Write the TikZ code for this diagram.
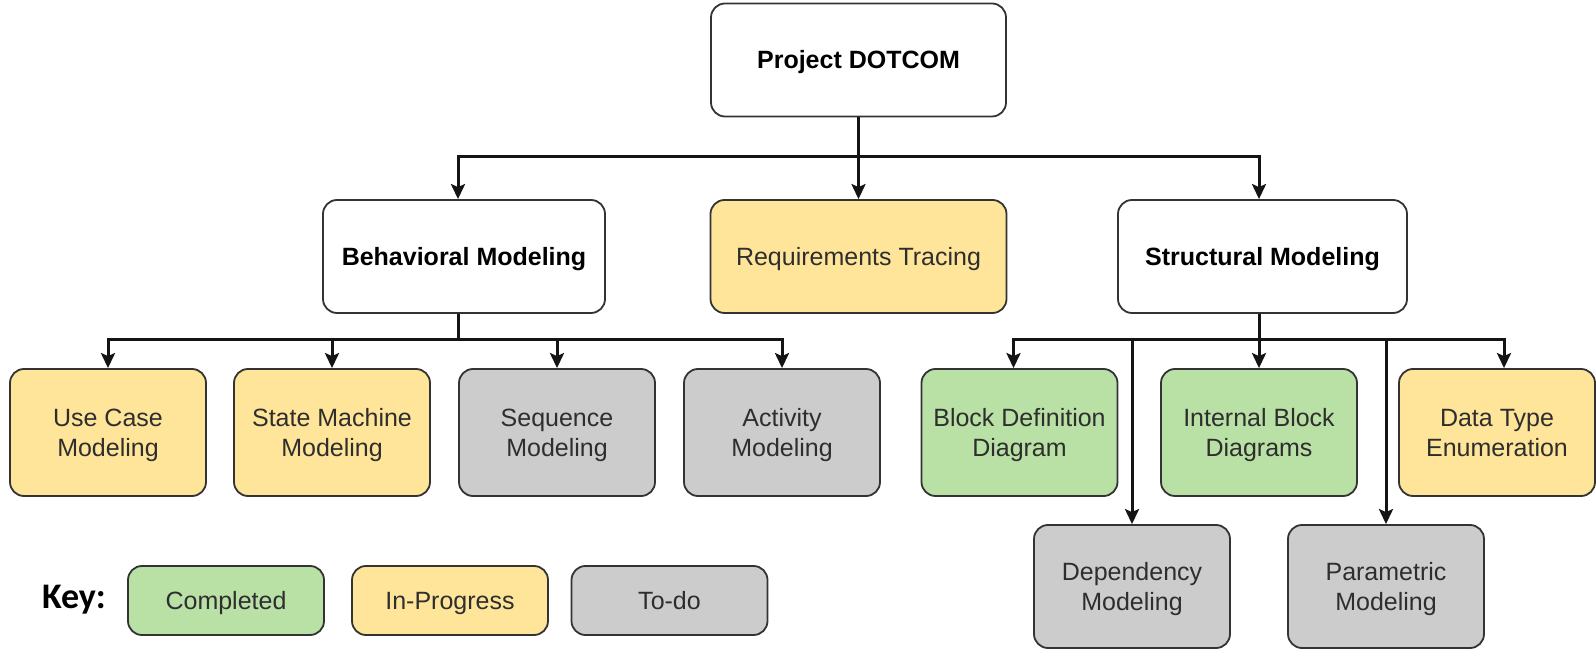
\documentclass[tikz,border=0pt]{standalone}
\usepackage{fontspec}
\setmainfont{Liberation Sans}
\newfontfamily\keyfont{Carlito}
\usetikzlibrary{arrows.meta}
\definecolor{donefill}{HTML}{B9E0A5}
\definecolor{progfill}{HTML}{FFE599}
\definecolor{todofill}{HTML}{CCCCCC}
\definecolor{edgecol}{HTML}{333333}
% invisible rule giving every label line the same height and depth
\newcommand\labelstrut{\rule[-4.5pt]{0pt}{18pt}}
\begin{document}
\begin{tikzpicture}[x=0.5pt,y=-0.5pt,
  box/.style={draw=edgecol, line width=0.9pt, rounded corners=7pt, align=center,
    inner sep=0pt, font=\fontsize{12.5}{15}\selectfont, text=black!82,
    execute at begin node=\labelstrut, execute at end node=\labelstrut},
  head/.style={box, fill=white, minimum height=56.5pt, text=black,
    font=\fontsize{12.5}{15}\selectfont\bfseries},
  leaf/.style={box, minimum width=98pt, minimum height=63.5pt},
  low/.style={box, minimum width=98pt, minimum height=61.5pt},
  keybox/.style={box, minimum width=98pt, minimum height=34.5pt},
  done/.style={fill=donefill},
  prog/.style={fill=progfill},
  todo/.style={fill=todofill},
  conn/.style={draw=black!92, line width=1.5pt},
  arr/.style={conn, -{Stealth[length=7.5pt,width=7pt,inset=1.5pt]}}]
\useasboundingbox (0,0) rectangle (1596,651);

% top level
\node[head, minimum width=147.5pt] (proj) at (858.5,60) {Project DOTCOM};

% second level
\node[head, minimum width=141pt] (beh) at (464,256.5) {Behavioral Modeling};
\node[box, prog, minimum width=148pt, minimum height=56.5pt] (req) at (858.5,256.5) {Requirements Tracing};
\node[head, minimum width=144.5pt] (str) at (1262.5,256.5) {Structural Modeling};

% behavioral leaves
\node[leaf, prog] (usecase) at (108,432.5) {\labelstrut Use Case\\Modeling};
\node[leaf, prog] (state) at (332,432.5) {\labelstrut State Machine\\Modeling};
\node[leaf, todo] (seq) at (557,432.5) {\labelstrut Sequence\\Modeling};
\node[leaf, todo] (act) at (782,432.5) {\labelstrut Activity\\Modeling};

% structural leaves
\node[leaf, done] (bdd) at (1019.5,432.5) {\labelstrut Block Definition\\Diagram};
\node[leaf, done] (ibd) at (1259,432.5) {\labelstrut Internal Block\\Diagrams};
\node[leaf, prog] (dtype) at (1497,432.5) {\labelstrut Data Type\\Enumeration};
\node[low, todo] (dep) at (1132,586.5) {\labelstrut Dependency\\Modeling};
\node[low, todo] (par) at (1386,586.5) {\labelstrut Parametric\\Modeling};

% legend
\node[font=\keyfont\fontsize{18}{20}\selectfont\bfseries, inner sep=0pt] (keylbl) at (74,600) {Key:};
\node[keybox, done] (kdone) at (226,600.5) {Completed};
\node[keybox, prog] (kprog) at (450,600.5) {In-Progress};
\node[keybox, todo] (ktodo) at (669.5,600.5) {To-do};

% bus levels
\coordinate (busA) at (0,157);
\coordinate (busB) at (0,340);

% project to second level
\draw[arr] (proj.south) |- ([xshift=-3pt]beh.north |- busA) -- ([xshift=-3pt]beh.north);
\draw[arr] (proj.south) -- (req.north);
\draw[arr] (proj.south) |- ([xshift=-1.75pt]str.north |- busA) -- ([xshift=-1.75pt]str.north);

% behavioral branch
\draw[arr] ([xshift=-3pt]beh.south) |- (usecase.north |- busB) -- (usecase.north);
\draw[arr] ([xshift=-3pt]beh.south) |- (state.north |- busB) -- (state.north);
\draw[arr] ([xshift=-3pt]beh.south) |- (seq.north |- busB) -- (seq.north);
\draw[arr] ([xshift=-3pt]beh.south) |- (act.north |- busB) -- (act.north);

% structural branch
\draw[arr] ([xshift=-1.75pt]str.south) |- ([xshift=-3pt]bdd.north |- busB) -- ([xshift=-3pt]bdd.north);
\draw[arr] ([xshift=-1.75pt]str.south) -- (ibd.north);
\draw[arr] ([xshift=-1.75pt]str.south) |- ([xshift=3.5pt]dtype.north |- busB) -- ([xshift=3.5pt]dtype.north);
\draw[arr] ([xshift=-1.75pt]str.south) |- (dep.north |- busB) -- (dep.north);
\draw[arr] ([xshift=-1.75pt]str.south) |- (par.north |- busB) -- (par.north);
\end{tikzpicture}
\end{document}
